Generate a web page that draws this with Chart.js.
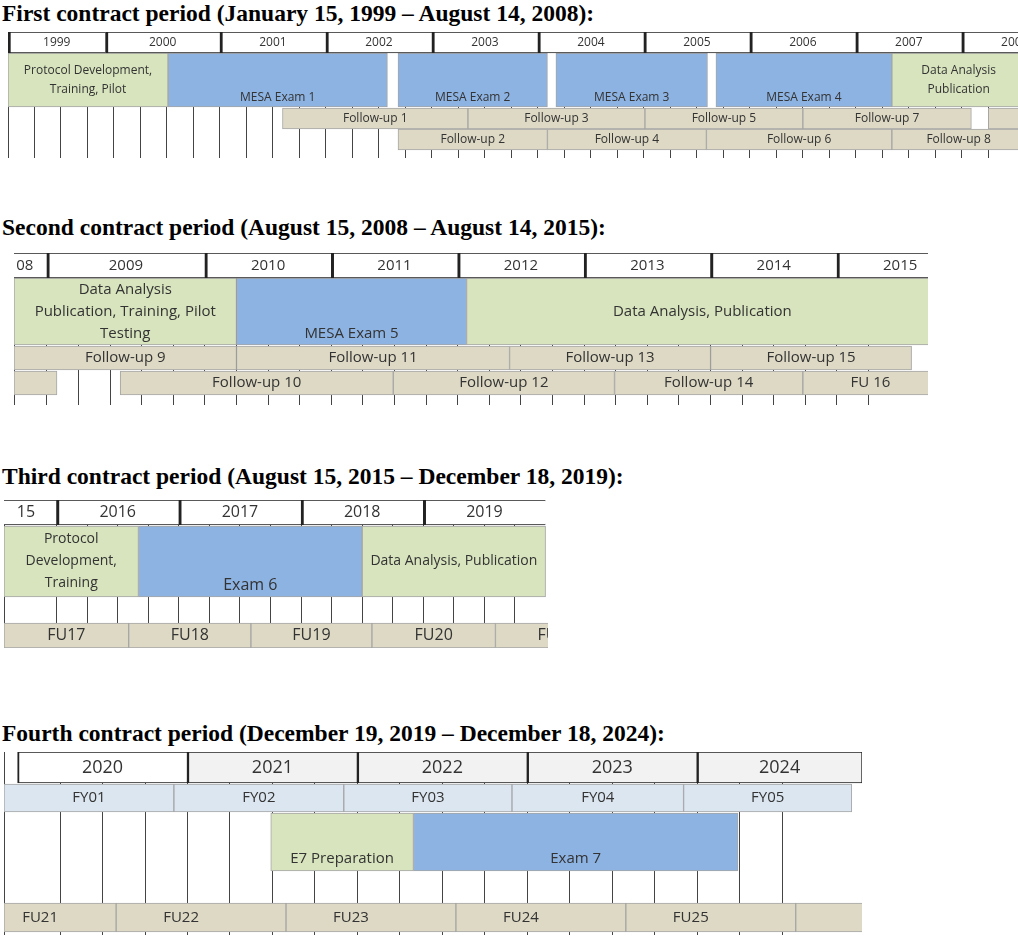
<!DOCTYPE html>
<html>
<head>
<meta charset="utf-8">
<script src="https://cdn.jsdelivr.net/npm/chart.js@4.4.1/dist/chart.umd.min.js"></script>
<style>
  body { margin: 0; background: #fff; width: 1018px; height: 946px; position: relative; overflow: hidden; }
  .title { position: absolute; left: 2px; font: bold 23.5px "Liberation Serif", serif; color: #000; white-space: nowrap; }
  canvas { position: absolute; }
</style>
</head>
<body>
<div class="title" style="top:0px">First contract period (January 15, 1999 – August 14, 2008):</div>
<div class="title" style="top:214px">Second contract period (August 15, 2008 – August 14, 2015):</div>
<div class="title" style="top:463px">Third contract period (August 15, 2015 – December 18, 2019):</div>
<div class="title" style="top:720px">Fourth contract period (December 19, 2019 – December 18, 2024):</div>

<canvas id="p1" width="1010" height="126" style="left:8px;top:32px"></canvas>
<canvas id="p2" width="914" height="152" style="left:14px;top:253px"></canvas>
<canvas id="p3" width="544" height="148" style="left:4px;top:500px"></canvas>
<canvas id="p4" width="858" height="183" style="left:4px;top:752px"></canvas>

<script>
// [label, start year, end year]
var p1Years = [["1999", 1999.0, 1999.92], ["2000", 1999.92, 2001], ["2001", 2001, 2002], ["2002", 2002, 2003],
  ["2003", 2003, 2004], ["2004", 2004, 2005], ["2005", 2005, 2006], ["2006", 2006, 2007], ["2007", 2007, 2008], ["2008", 2008, 2009]];
var p1Green = [["Protocol Development,\nTraining, Pilot", 1999.0, 2000.51], ["Data Analysis\nPublication", 2007.34, 2008.6]];
var p1Exams = [["MESA Exam 1", 2000.51, 2002.58], ["MESA Exam 2", 2002.68, 2004.09], ["MESA Exam 3", 2004.17, 2005.6], ["MESA Exam 4", 2005.68, 2007.34]];
var p1FollowA = [["Follow-up 1", 2001.59, 2003.34], ["Follow-up 3", 2003.34, 2005.01], ["Follow-up 5", 2005.01, 2006.5], ["Follow-up 7", 2006.5, 2008.09], ["", 2008.25, 2008.6]];
var p1FollowB = [["Follow-up 2", 2002.68, 2004.09], ["Follow-up 4", 2004.09, 2005.59], ["Follow-up 6", 2005.59, 2007.34], ["Follow-up 8", 2007.34, 2008.6]];

var p2Years = [["08", 2008.4, 2008.75], ["2009", 2008.75, 2010], ["2010", 2010, 2011], ["2011", 2011, 2012], ["2012", 2012, 2013],
  ["2013", 2013, 2014], ["2014", 2014, 2015], ["2015", 2015, 2016]];
var p2Green = [["Data Analysis\nPublication, Training, Pilot\nTesting", 2008.49, 2010.25], ["Data Analysis, Publication", 2012.07, 2015.8]];
var p2Exams = [["MESA Exam 5", 2010.25, 2012.07]];
var p2FollowA = [["Follow-up 9", 2008.49, 2010.25], ["Follow-up 11", 2010.25, 2012.41], ["Follow-up 13", 2012.41, 2014.0], ["Follow-up 15", 2014.0, 2015.59]];
var p2FollowB = [["", 2008.49, 2008.83], ["Follow-up 10", 2009.33, 2011.49], ["Follow-up 12", 2011.49, 2013.24], ["Follow-up 14", 2013.24, 2014.73], ["FU 16", 2014.73, 2015.8]];

var p3Years = [["15", 2015.5, 2016], ["2016", 2016, 2017], ["2017", 2017, 2018], ["2018", 2018, 2019], ["2019", 2019, 2020]];
var p3Green = [["Protocol\nDevelopment,\nTraining", 2015.57, 2016.67], ["Data Analysis, Publication", 2018.5, 2020]];
var p3Exams = [["Exam 6", 2016.67, 2018.5]];
var p3Follow = [["FU17", 2015.57, 2016.59], ["FU18", 2016.59, 2017.59], ["FU19", 2017.59, 2018.58], ["FU20", 2018.58, 2019.59], ["FU21", 2019.59, 2020.59]];

var p4Years = [["2020", 2020, 2021], ["2021", 2021, 2022], ["2022", 2022, 2023], ["2023", 2023, 2024], ["2024", 2024, 2024.97]];
var p4Fiscal = [["FY01", 2019.92, 2020.92], ["FY02", 2020.92, 2021.92], ["FY03", 2021.92, 2022.91], ["FY04", 2022.91, 2023.92], ["FY05", 2023.92, 2024.91]];
var p4Green = [["E7 Preparation", 2021.49, 2022.33]];
var p4Exams = [["Exam 7", 2022.33, 2024.24]];
var p4Follow = [["FU21", 2019.92, 2020.58], ["FU22", 2020.58, 2021.58], ["FU23", 2021.58, 2022.58], ["FU24", 2022.58, 2023.58], ["FU25", 2023.58, 2024.58], ["", 2024.58, 2025]];

var GREEN = "#d7e4bd", BLUE = "#8db3e2", TAN = "#ddd9c4", FY = "#dce6f1";

// draws the label text in the middle of every bar
var barText = {
  id: "barText",
  afterDatasetsDraw: function (chart) {
    var ctx = chart.ctx, area = chart.chartArea;
    ctx.save();
    ctx.beginPath();
    ctx.rect(area.left, area.top, area.right - area.left, area.bottom - area.top);
    ctx.clip();
    chart.data.datasets.forEach(function (ds, i) {
      var meta = chart.getDatasetMeta(i);
      ctx.font = ds.textFont;
      ctx.fillStyle = "#333";
      ctx.textAlign = "center";
      ctx.textBaseline = "middle";
      meta.data.forEach(function (el, j) {
        var lines = ds.labels[j].split("\n");
        var cx = (el.x + el.base) / 2 + (ds.textShift || 0);
        var cy = el.y + (ds.textDy || 0);
        var lh = ds.lineH;
        lines.forEach(function (ln, k) {
          ctx.fillText(ln, cx, cy + (k - (lines.length - 1) / 2) * lh);
        });
      });
    });
    ctx.restore();
  }
};

function row(items, y, h, color, font, lineH, opts) {
  var ds = {
    data: items.map(function (it) { return { x: [it[1], it[2]], y: y }; }),
    labels: items.map(function (it) { return it[0]; }),
    backgroundColor: color,
    borderColor: "#a6a6a6",
    borderWidth: 1,
    borderSkipped: false,
    barThickness: h,
    grouped: false,
    textFont: font,
    lineH: lineH || 16
  };
  return Object.assign(ds, opts || {});
}

function gantt(id, xmin, xmax, height, step, datasets) {
  return new Chart(document.getElementById(id), {
    type: "bar",
    data: { datasets: datasets },
    plugins: [barText],
    options: {
      indexAxis: "y",
      responsive: false,
      animation: false,
      layout: { padding: 0 },
      plugins: { legend: { display: false }, tooltip: { enabled: false } },
      scales: {
        x: { type: "linear", min: xmin, max: xmax, ticks: { display: false, stepSize: step },
             grid: { color: "#444", drawTicks: false }, border: { display: false } },
        y: { type: "linear", min: 0, max: height, reverse: true, offset: false, display: false }
      }
    }
  });
}

var headBorder = { borderColor: "#222", borderWidth: { left: 3, top: 1, bottom: 1, right: 0 } };

gantt("p1", 1999.0, 2008.53, 126, 0.25, [
  row(p1Years, 10.5, 21, "#fff", "12px 'Open Sans'", 16, headBorder),
  row(p1Green, 48, 54, GREEN, "12px 'Open Sans'", 19),
  row(p1Exams, 48, 54, BLUE, "12px 'Open Sans'", 16, { textDy: 18 }),
  row(p1FollowA, 86.5, 21, TAN, "12px 'Open Sans'"),
  row(p1FollowB, 107.5, 21, TAN, "12px 'Open Sans'")
]);

gantt("p2", 2008.49, 2015.72, 152, 0.25, [
  row(p2Years, 12.5, 25, "#fff", "15px 'Open Sans'", 16, headBorder),
  row(p2Green, 58.5, 67, GREEN, "15px 'Open Sans'", 22, {}),
  row(p2Exams, 58.5, 67, BLUE, "15px 'Open Sans'", 16, { textDy: 22 }),
  row(p2FollowA, 105, 24, TAN, "15px 'Open Sans'"),
  row(p2FollowB, 130, 24, TAN, "15px 'Open Sans'")
]);

gantt("p3", 2015.57, 2020.02, 148, 0.25, [
  row(p3Years, 12.5, 25, "#fff", "16px 'Open Sans'", 16, headBorder),
  row(p3Green, 61.5, 71, GREEN, "14px 'Open Sans'", 22),
  row(p3Exams, 61.5, 71, BLUE, "16px 'Open Sans'", 16, { textDy: 24 }),
  row(p3Follow, 135.5, 25, TAN, "16px 'Open Sans'")
]);

gantt("p4", 2019.92, 2024.97, 183, 0.25, [
  row(p4Years, 15.5, 31, ["#fff", "#f2f2f2", "#f2f2f2", "#f2f2f2", "#f2f2f2"], "18px 'Open Sans'", 16, { borderColor: "#222", borderWidth: { left: 2, top: 1, bottom: 1, right: 1 } }),
  row(p4Fiscal, 46, 28, FY, "15px 'Open Sans'"),
  row(p4Green, 90, 58, GREEN, "15px 'Open Sans'", 16, { textDy: 17 }),
  row(p4Exams, 90, 58, BLUE, "15px 'Open Sans'", 16, { textDy: 17 }),
  row(p4Follow, 165.5, 29, TAN, "15px 'Open Sans'", 16, { textShift: -20 })
]);
</script>
</body>
</html>
